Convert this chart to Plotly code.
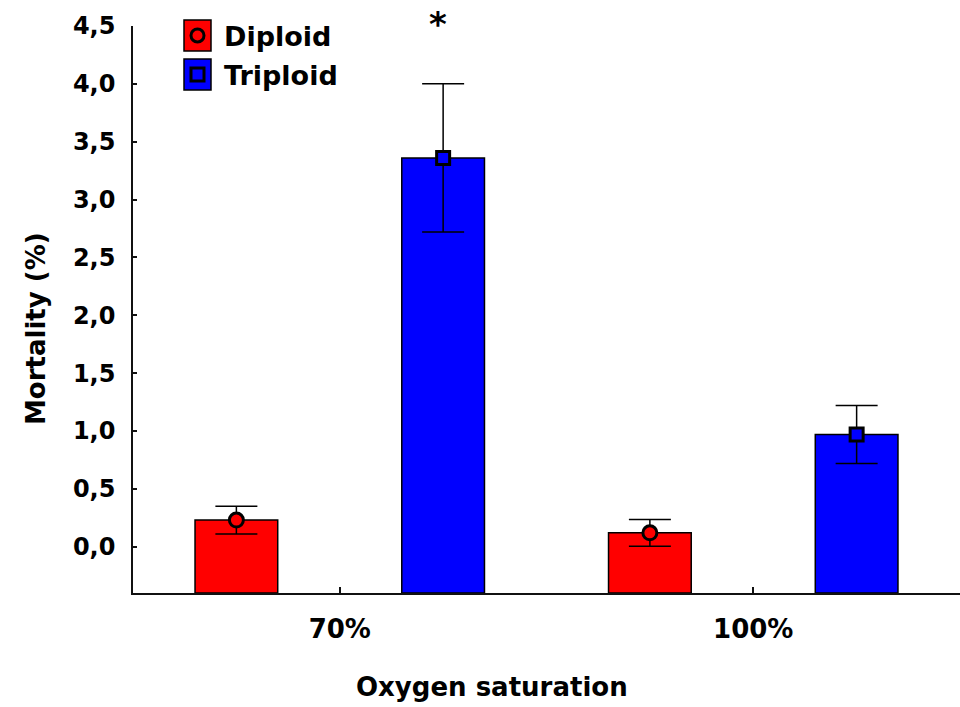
import plotly.graph_objects as go

# ---- data ----
categories = ["70%", "100%"]
diploid_mean = [0.23, 0.12]
diploid_err = [0.12, 0.115]
triploid_mean = [3.36, 0.97]
triploid_err = [0.64, 0.25]
y_tickvals = [0.0, 0.5, 1.0, 1.5, 2.0, 2.5, 3.0, 3.5, 4.0, 4.5]
y_ticktext = ["0,0", "0,5", "1,0", "1,5", "2,0", "2,5", "3,0", "3,5", "4,0", "4,5"]
series_names = ["Diploid", "Triploid"]

Y_MIN, Y_MAX = -0.4, 4.5
X_MIN, X_MAX = -0.5, 1.5
OFFSET = 0.25
BAR_W = 0.2

W, H = 960, 707
ML, MR, MT, MB = 133, 0, 26, 114
PW, PH = W - ML - MR, H - MT - MB

FONT = "DejaVu Sans"
RED = "#ff0000"
BLUE = "#0000ff"


def px(x):
    return (x - ML) / PW


def py(y):
    return (H - MB - y) / PH


cat_idx = list(range(len(categories)))
x_d = [i - OFFSET for i in cat_idx]
x_t = [i + OFFSET for i in cat_idx]

fig = go.Figure()

for xs, means, color in [(x_d, diploid_mean, RED), (x_t, triploid_mean, BLUE)]:
    fig.add_trace(go.Bar(
        x=xs, y=[m - Y_MIN for m in means], base=Y_MIN, width=BAR_W,
        marker=dict(color=color, line=dict(color="black", width=1.5)),
        showlegend=False, hoverinfo="skip",
    ))

for xs, means, errs, color, sym, size in [
    (x_d, diploid_mean, diploid_err, RED, "circle", 14),
    (x_t, triploid_mean, triploid_err, BLUE, "square", 13),
]:
    fig.add_trace(go.Scatter(
        x=xs, y=means, mode="markers",
        marker=dict(symbol=sym, size=size, color=color,
                    line=dict(color="black", width=3)),
        error_y=dict(type="data", array=errs, visible=True,
                     color="black", thickness=1.5, width=21),
        showlegend=False, hoverinfo="skip",
    ))

axis_font = dict(family=FONT, size=24, color="black", weight="bold")

fig.update_xaxes(
    range=[X_MIN, X_MAX], tickvals=cat_idx, ticktext=categories,
    showline=True, linecolor="#111111", linewidth=1.5,
    ticks="inside", ticklen=6, tickwidth=1.5, tickcolor="#111111",
    showgrid=False, zeroline=False, automargin=False,
    tickfont=dict(family=FONT, size=26, color="black", weight="bold"),
    ticklabelstandoff=12,
)
fig.update_yaxes(
    range=[Y_MIN, Y_MAX], tickvals=y_tickvals, ticktext=y_ticktext,
    showline=True, linecolor="#111111", linewidth=1.5,
    ticks="inside", ticklen=4, tickwidth=1.5, tickcolor="#111111",
    showgrid=False, zeroline=False, automargin=False,
    tickfont=axis_font, ticklabelstandoff=11,
)

annotations = [
    dict(text="Oxygen saturation", x=px(492), y=py(687), xref="paper", yref="paper",
         xanchor="center", yanchor="middle", showarrow=False,
         font=dict(family=FONT, size=26, color="black", weight="bold")),
    dict(text="Mortality (%)", x=px(36), y=py(329), xref="paper", yref="paper",
         xanchor="center", yanchor="middle", textangle=-90, showarrow=False,
         font=dict(family=FONT, size=26, color="black", weight="bold")),
    dict(text="*", x=px(437.5), y=py(24), xref="paper", yref="paper",
         xanchor="center", yanchor="middle", showarrow=False,
         font=dict(family=FONT, size=34, color="black", weight="bold")),
    dict(text=series_names[0], x=px(222), y=py(36), xref="paper", yref="paper",
         xanchor="left", yanchor="middle", showarrow=False,
         font=dict(family=FONT, size=27, color="black", weight="bold")),
    dict(text=series_names[1], x=px(222), y=py(75), xref="paper", yref="paper",
         xanchor="left", yanchor="middle", showarrow=False,
         font=dict(family=FONT, size=27, color="black", weight="bold")),
]

shapes = [
    dict(type="rect", xref="paper", yref="paper", x0=px(184), x1=px(211),
         y0=py(51), y1=py(20), fillcolor=RED, line=dict(color="black", width=1.5)),
    dict(type="circle", xref="paper", yref="paper", x0=px(191), x1=px(204),
         y0=py(42), y1=py(29), fillcolor=RED, line=dict(color="black", width=3)),
    dict(type="rect", xref="paper", yref="paper", x0=px(184), x1=px(211),
         y0=py(90), y1=py(59), fillcolor=BLUE, line=dict(color="black", width=1.5)),
    dict(type="rect", xref="paper", yref="paper", x0=px(191), x1=px(204),
         y0=py(81), y1=py(68), fillcolor=BLUE, line=dict(color="black", width=3)),
]

fig.update_layout(
    width=W, height=H,
    margin=dict(l=ML, r=MR, t=MT, b=MB),
    paper_bgcolor="white", plot_bgcolor="white",
    barmode="overlay",
    annotations=annotations, shapes=shapes,
    showlegend=False,
)

fig.write_html(
    "out.html",
    config={"displayModeBar": False},
    post_script="document.body.style.margin='0';document.body.style.overflow='hidden';",
)
